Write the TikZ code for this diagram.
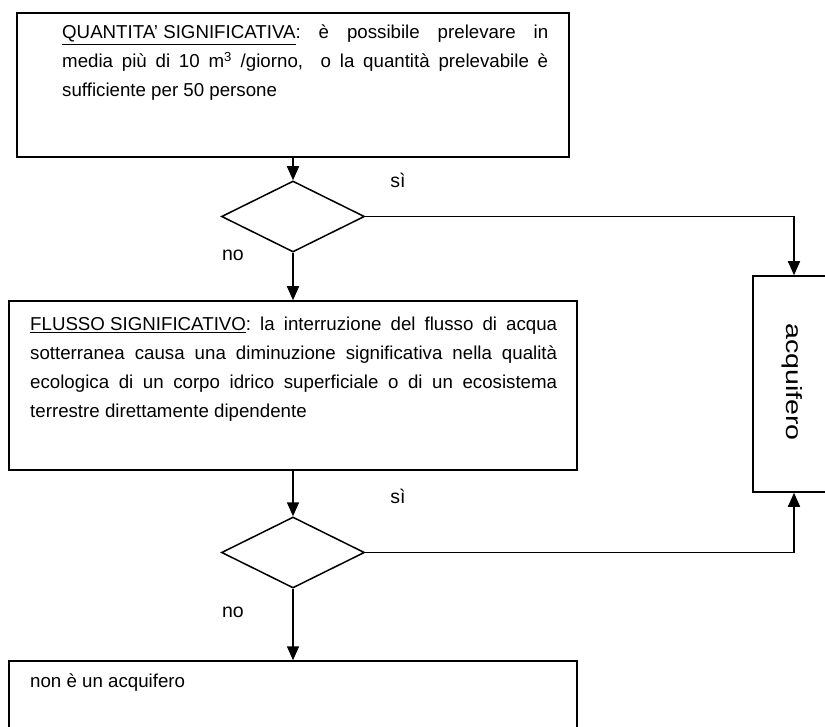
\documentclass[tikz,border=0pt]{standalone}
\usepackage{fontspec}
\setmainfont{Liberation Sans}
\newfontfamily\largofont{Liberation Sans}[FakeStretch=1.3]
\usetikzlibrary{shapes.geometric,arrows.meta}
\frenchspacing

\tikzset{
  blocco/.style={draw, line width=1.5pt, rectangle, inner sep=0pt},
  domanda/.style={diamond, draw, line width=1.5pt, inner sep=0pt,
    minimum width=143pt, minimum height=71pt},
  testo/.style={inner sep=0pt, anchor=north west, align=justify,
    font=\fontsize{18.7}{29}\selectfont},
  freccia/.style={line width=1.5pt, -{Triangle[length=14pt,width=12pt]}},
  etichetta/.style={inner sep=0pt, font=\fontsize{19.5}{29}\selectfont},
}

\begin{document}
\begin{tikzpicture}[x=1pt,y=-1pt]
  \useasboundingbox (0,0) rectangle (825,727);

  % blocchi
  \node[blocco, minimum width=552pt, minimum height=144pt] (quant) at (293,85) {};
  \node[domanda] (d1) at (293,216.5) {};
  \node[blocco, minimum width=568pt, minimum height=169pt] (flusso) at (293,385.5) {};
  \node[domanda] (d2) at (293,552.5) {};
  \node[blocco, minimum width=568pt, minimum height=79pt] (nonacq) at (293,700.5) {};
  \node[blocco, minimum width=82pt, minimum height=216pt] (acq) at (794,384) {};

  % testi
  \node[testo, text width=486pt] (quantt) at (62,25)
    {\underline{QUANTITA’ SIGNIFICATIVA}: è possibile prelevare in\linebreak
     media più di 10 m\textsuperscript{3} /giorno,\ \ o la quantità prelevabile è\linebreak
     sufficiente per 50 persone};
  \node[testo, text width=527pt] (flussot) at (30,317)
    {\underline{FLUSSO SIGNIFICATIVO}: la interruzione del flusso di acqua\linebreak
     sotterranea causa una diminuzione significativa nella qualità\linebreak
     ecologica di un corpo idrico superficiale o di un ecosistema\linebreak
     terrestre direttamente dipendente};
  \node[testo, text width=527pt] (nonacqt) at (30,674) {non è un acquifero};
  \node[inner sep=0pt, rotate=-90, font=\largofont\fontsize{22}{24}\selectfont]
    (acqt) at (792.5,382) {acquifero};

  % etichette
  \node[etichetta] (si1) at (398,180) {sì};
  \node[etichetta] (no1) at (233,255) {no};
  \node[etichetta] (si2) at (398,496) {sì};
  \node[etichetta] (no2) at (233,612) {no};

  % frecce
  \draw[freccia] (quant.south) -- (d1.north);
  \draw[freccia] (d1.south) -- (flusso.north);
  \draw[freccia] (d1.east) -- (d1.east -| acq.north) -- (acq.north);
  \draw[freccia] (flusso.south) -- (d2.north);
  \draw[freccia] (d2.south) -- (nonacq.north);
  \draw[freccia] (d2.east) -- (d2.east -| acq.south) -- (acq.south);
\end{tikzpicture}
\end{document}
